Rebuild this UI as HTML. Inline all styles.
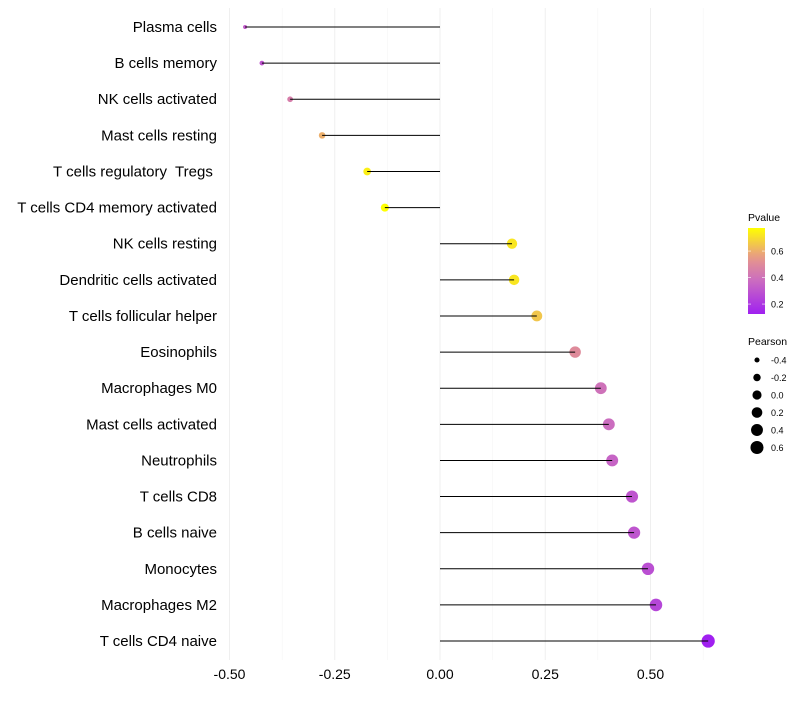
<!DOCTYPE html>
<html><head><meta charset="utf-8"><style>
body{margin:0;background:#fff;font-family:"Liberation Sans",sans-serif}
text{white-space:pre}
</style></head><body>
<svg id="chart" width="800" height="700" xmlns="http://www.w3.org/2000/svg" font-family="Liberation Sans, sans-serif"></svg>
<script>
const categories=["Plasma cells","B cells memory","NK cells activated","Mast cells resting","T cells regulatory  Tregs ","T cells CD4 memory activated","NK cells resting","Dendritic cells activated","T cells follicular helper","Eosinophils","Macrophages M0","Mast cells activated","Neutrophils","T cells CD8","B cells naive","Monocytes","Macrophages M2","T cells CD4 naive"];
const pearson=[-0.463,-0.423,-0.356,-0.280,-0.173,-0.131,0.171,0.176,0.230,0.321,0.382,0.401,0.409,0.456,0.461,0.494,0.513,0.637];
const pvalue=[0.32,0.30,0.45,0.60,0.74,0.774,0.72,0.72,0.65,0.50,0.40,0.38,0.35,0.30,0.30,0.28,0.25,0.125];
const xTicks=[-0.5,-0.25,0,0.25,0.5];
const xTickLabels=["-0.50","-0.25","0.00","0.25","0.50"];
const colorTicks=[0.6,0.4,0.2];
const sizeTicks=[-0.4,-0.2,0.0,0.2,0.4,0.6];
const sizeTickLabels=["-0.4","-0.2","0.0","0.2","0.4","0.6"];

const svg=document.getElementById('chart');
const NS="http://www.w3.org/2000/svg";
function mk(t,a,p){const e=document.createElementNS(NS,t);for(const k in a)e.setAttribute(k,a[k]);(p||svg).appendChild(e);return e;}
const x=v=>440+v*421;
const y=i=>27+i*36.12;
const pMin=0.125,pMax=0.774;
function col(p){let t=(p-pMin)/(pMax-pMin);t=Math.max(0,Math.min(1,t));
 const s=[[160,32,240],[204,110,190],[230,150,140],[255,255,0]];const st=[0,0.4,0.65,1];
 let k=0;while(k<2&&t>st[k+1])k++;const u=(t-st[k])/(st[k+1]-st[k]);
 const c=s[k].map((v,j)=>Math.round(v+(s[k+1][j]-v)*u));return `rgb(${c})`;}
const rad=v=>Math.sqrt(4+(v+0.47)/1.11*40);

[-0.375,-0.125,0.125,0.375,0.625].forEach(v=>{const l=mk('line',{x1:x(v),x2:x(v),y1:8,y2:660,stroke:'#f5f5f5','stroke-width':0.6});
});
xTicks.forEach((v,i)=>{const l=mk('line',{x1:x(v),x2:x(v),y1:8,y2:660,stroke:'#efefef','stroke-width':1});

const t=mk('text',{x:x(v),y:679,'text-anchor':'middle','font-size':14,fill:'#000'});t.textContent=xTickLabels[i];
});
categories.forEach((c,i)=>{
 const t=mk('text',{x:217,y:y(i)+5,'text-anchor':'end','font-size':15,fill:'#000'});t.textContent=c;
 
 const d=mk('circle',{cx:x(pearson[i]),cy:y(i),r:rad(pearson[i]),fill:col(pvalue[i])});
 
 const s=mk('line',{x1:x(0),x2:x(pearson[i]),y1:y(i),y2:y(i),stroke:'#000','stroke-width':1});
 
});
const g=mk('g',{});
const tt=mk('text',{x:748,y:221,'font-size':10.5},g);tt.textContent='Pvalue';
const defs=mk('defs',{});const lg=mk('linearGradient',{id:'cg',x1:0,y1:1,x2:0,y2:0},defs);
for(let k=0;k<=10;k++){const p=pMin+(pMax-pMin)*k/10;mk('stop',{offset:k/10,'stop-color':col(p)},lg);}
mk('rect',{x:748,y:228,width:17,height:86,fill:'url(#cg)'},g);
const cy=p=>314-(p-pMin)/(pMax-pMin)*86;
colorTicks.forEach(p=>{mk('line',{x1:748,x2:751,y1:cy(p),y2:cy(p),stroke:'#fff','stroke-width':0.6},g);mk('line',{x1:762,x2:765,y1:cy(p),y2:cy(p),stroke:'#fff','stroke-width':0.6},g);
 const t=mk('text',{x:771,y:cy(p)+3.5,'font-size':9},g);t.textContent=p.toFixed(1);});
const g2=mk('g',{});
const t2=mk('text',{x:748,y:345,'font-size':10.5},g2);t2.textContent='Pearson';
sizeTicks.forEach((v,i)=>{const yy=360+i*17.5;mk('circle',{cx:757,cy:yy,r:rad(v),fill:'#000'},g2);
 const t=mk('text',{x:771,y:yy+3.5,'font-size':9},g2);t.textContent=sizeTickLabels[i];});
</script>
</body></html>
